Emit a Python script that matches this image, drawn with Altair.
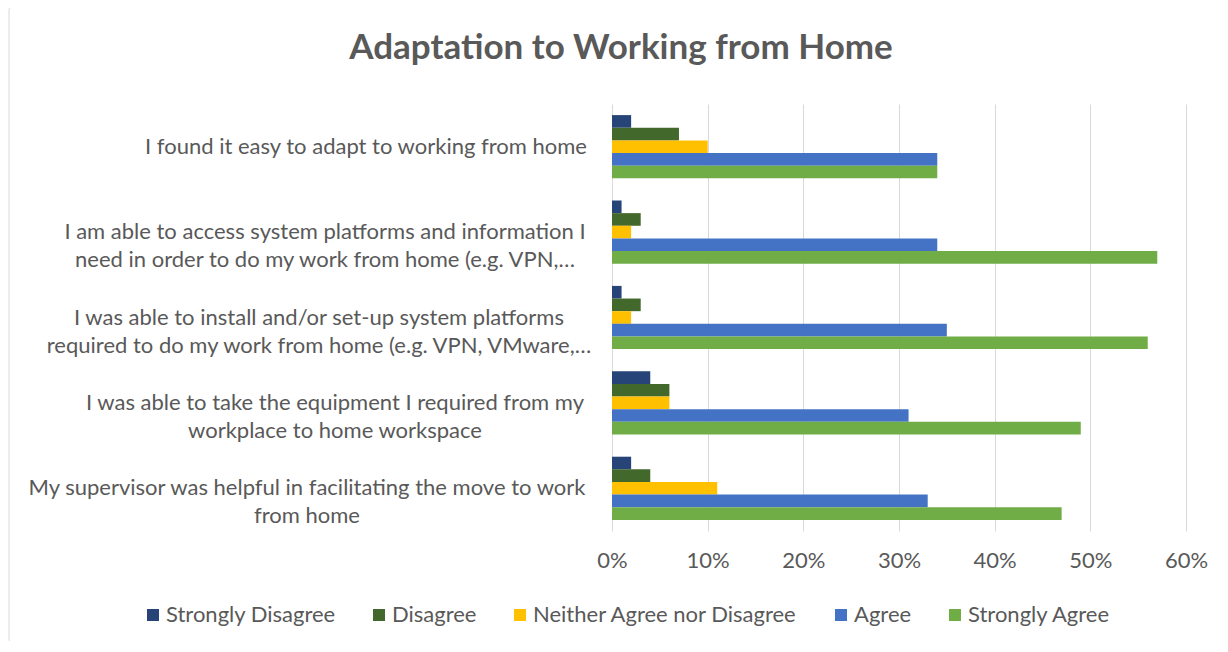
import altair as alt
import pandas as pd

categories = [
    "I found it easy to adapt to working from home",
    "I am able to access system platforms and information I|need in order to do my work from home (e.g. VPN,…",
    "I was able to install and/or set-up system platforms|required to do my work from home (e.g. VPN, VMware,…",
    "I was able to take the equipment I required from my|workplace to home workspace",
    "My supervisor was helpful in facilitating the move to work|from home",
]
responses = ["Strongly Disagree", "Disagree", "Neither Agree nor Disagree", "Agree", "Strongly Agree"]
strongly_disagree = [0.02, 0.01, 0.01, 0.04, 0.02]
disagree = [0.07, 0.03, 0.03, 0.06, 0.04]
neither = [0.10, 0.02, 0.02, 0.06, 0.11]
agree = [0.34, 0.34, 0.35, 0.31, 0.33]
strongly_agree = [0.34, 0.57, 0.56, 0.49, 0.47]
tick_values = [0, 0.1, 0.2, 0.3, 0.4, 0.5, 0.6]
colors = ["#264478", "#43682B", "#FFC000", "#4472C4", "#70AD47"]

series = [strongly_disagree, disagree, neither, agree, strongly_agree]
rows = []
for r, vals in zip(responses, series):
    for c, v in zip(categories, vals):
        rows.append({"q": c, "resp": r, "pct": v})
df = pd.DataFrame(rows)
lab_df = pd.DataFrame({"q": categories})

FONT = "Lato"
GREY = "#595959"
FS = 22
W, H = 574, 427

ysc = alt.Scale(paddingInner=0.26, paddingOuter=0.13)

bars = alt.Chart(df).mark_bar().encode(
    x=alt.X("pct:Q", scale=alt.Scale(domain=[0, 0.6]),
            axis=alt.Axis(values=tick_values, format=".0%", title=None, grid=True,
                          gridColor="#d9d9d9", gridWidth=1, domain=False, ticks=False,
                          labelFlush=False,
                          labelFontSize=FS, labelColor=GREY, labelFont=FONT, labelPadding=19)),
    y=alt.Y("q:N", sort=categories, scale=ysc, axis=None),
    yOffset=alt.YOffset("resp:N", sort=responses),
    color=alt.Color("resp:N", sort=responses,
                    scale=alt.Scale(domain=responses, range=colors),
                    legend=alt.Legend(title=None, orient="none", direction="horizontal",
                                      legendX=-470, legendY=500, symbolType="square",
                                      symbolSize=144, symbolStrokeWidth=0, labelFontSize=FS,
                                      labelFont=FONT, labelColor=GREY, columnPadding=32,
                                      labelOffset=2, symbolOpacity=1, labelLimit=500)),
)

label_dx = [-246, -287, -293, -277, -305]
label_layers = []
for cat, dx in zip(categories, label_dx):
    label_layers.append(
        alt.Chart(lab_df).transform_filter(alt.datum.q == cat).mark_text(
            align="center", baseline="middle", dx=dx, lineBreak="|", lineHeight=28,
            fontSize=FS, font=FONT, color=GREY
        ).encode(y=alt.Y("q:N", sort=categories, scale=ysc, axis=None),
                 x=alt.value(0), text="q:N")
    )

border = alt.Chart(pd.DataFrame({"a": [0]})).mark_rect(
    fillOpacity=0, stroke="#d9d9d9", strokeWidth=1, cornerRadius=3
).encode(x=alt.value(-603), x2=alt.value(607), y=alt.value(-97), y2=alt.value(538))

chart = alt.layer(border, bars, *label_layers).properties(
    width=W, height=H,
    title=alt.TitleParams("Adaptation to Working from Home", fontSize=35, fontWeight="bold",
                          font=FONT, color=GREY, anchor="middle", frame="group",
                          baseline="alphabetic", dx=-278, offset=-87),
    autosize=alt.AutoSizeParams(type="none"),
    padding={"left": 604, "top": 96, "right": 30, "bottom": 110},
).configure_view(stroke=None)

chart.save("out.html", embed_options={"renderer": "svg", "actions": False})
